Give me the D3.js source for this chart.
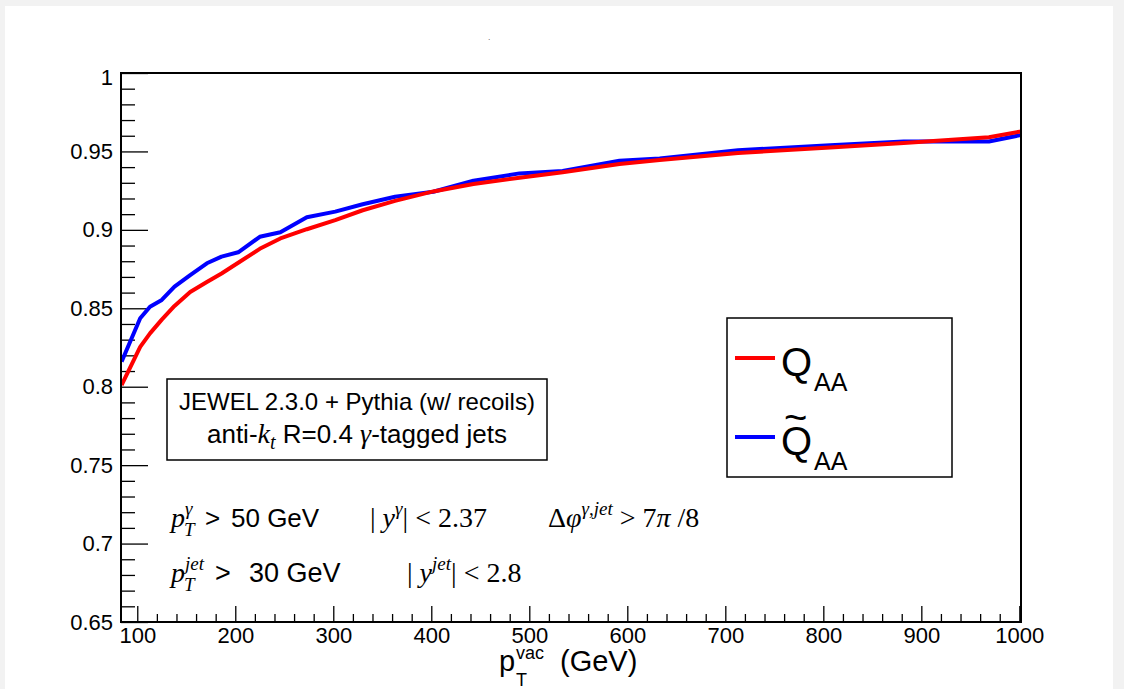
<!DOCTYPE html>
<html>
<head>
<meta charset="utf-8">
<script src="https://cdn.jsdelivr.net/npm/d3@7"></script>
<style>
  body { margin: 0; background: #f2f2f2; }
  svg { display: block; }
  text { font-family: "Liberation Sans", Arial, sans-serif; fill: #000; white-space: pre; }
  .serif { font-family: "Liberation Serif", "Times New Roman", serif; }
  .it { font-style: italic; }
</style>
</head>
<body>
<svg id="chart" width="1124" height="689"></svg>
<script>
// pT (GeV) where the curves have their nodes
const pT = [84, 103, 113, 125, 138, 154, 171, 186, 203, 225, 246, 273, 302, 330, 363, 402, 443, 490, 534, 592, 633, 713, 807, 882, 969, 1002];
// Q_AA (red)
const qAA = [0.801, 0.8254, 0.834, 0.8428, 0.8515, 0.8604, 0.8668, 0.8722, 0.879, 0.8879, 0.8945, 0.9004, 0.9062, 0.9125, 0.9185, 0.9245, 0.9292, 0.9332, 0.9367, 0.942, 0.9445, 0.949, 0.9525, 0.9553, 0.959, 0.9628];
// Q~_AA (blue)
const qAAtilde = [0.816, 0.8436, 0.851, 0.8553, 0.8638, 0.8712, 0.8787, 0.8829, 0.8857, 0.8956, 0.8985, 0.908, 0.9116, 0.9163, 0.9211, 0.9243, 0.9313, 0.936, 0.9375, 0.944, 0.9455, 0.9507, 0.954, 0.9563, 0.9563, 0.9605];

const xTicks = [100, 200, 300, 400, 500, 600, 700, 800, 900, 1000];
const yTicks = [0.65, 0.7, 0.75, 0.8, 0.85, 0.9, 0.95, 1];
const yTickLabels = ["0.65", "0.7", "0.75", "0.8", "0.85", "0.9", "0.95", "1"];

const svg = d3.select("#chart");

// white canvas on grey window
svg.append("rect").attr("x", 5).attr("y", 6).attr("width", 1108).attr("height", 683).attr("fill", "#fff");

// frame
let frame = { left: 121, right: 1021, top: 73, bottom: 622 };

let x = d3.scaleLinear().domain([83.4, 1001.7]).range([frame.left, frame.right]);
let y = d3.scaleLinear().domain([0.65, 1]).range([frame.bottom, frame.top]);

let xMinor = d3.range(100, 1001, 20).filter(d => d % 100 !== 0);
let yMinor = d3.range(66, 100).filter(d => d % 5 !== 0).map(d => d / 100);

// ticks (ROOT style: pointing inward)
svg.append("g")
    .attr("transform", "translate(0," + frame.bottom + ")")
    .call(d3.axisBottom(x).tickValues(xMinor).tickSizeInner(-8).tickSizeOuter(0).tickFormat(""))
    .call(g => g.select(".domain").remove());

let axX = svg.append("g")
    .attr("class", "x-axis")
    .attr("transform", "translate(0," + frame.bottom + ")")
    .call(d3.axisBottom(x).tickValues(xTicks).tickSizeInner(-16).tickSizeOuter(0).tickPadding(5).tickFormat(d3.format("d")))
    .call(g => g.select(".domain").remove());
axX.selectAll("text").attr("font-size", 22).attr("font-family", "Liberation Sans, Arial, sans-serif");

svg.append("g")
    .attr("transform", "translate(" + frame.left + ",0)")
    .call(d3.axisLeft(y).tickValues(yMinor).tickSizeInner(-14).tickSizeOuter(0).tickFormat(""))
    .call(g => g.select(".domain").remove());

let axY = svg.append("g")
    .attr("class", "y-axis")
    .attr("transform", "translate(" + frame.left + ",0)")
    .call(d3.axisLeft(y).tickValues(yTicks).tickSizeInner(-27).tickSizeOuter(0).tickPadding(8)
        .tickFormat((d, i) => yTickLabels[i]))
    .call(g => g.select(".domain").remove());
axY.selectAll("text").attr("font-size", 22).attr("font-family", "Liberation Sans, Arial, sans-serif");
// top label sits a bit lower, like in ROOT
axY.selectAll("text").filter(d => d === 1).attr("y", 4);

svg.selectAll(".tick line").attr("stroke", "#000").attr("stroke-width", 1.3);

// curves
svg.append("clipPath").attr("id", "clip")
    .append("rect").attr("x", frame.left).attr("y", frame.top)
    .attr("width", frame.right - frame.left).attr("height", frame.bottom - frame.top);

let line = d3.line().x(d => x(d[0])).y(d => y(d[1]));

svg.append("path")
    .datum(pT.map((p, i) => [p, qAAtilde[i]]))
    .attr("d", line)
    .attr("clip-path", "url(#clip)")
    .attr("fill", "none").attr("stroke", "#0000ff").attr("stroke-width", 4).attr("stroke-linejoin", "round");

svg.append("path")
    .datum(pT.map((p, i) => [p, qAA[i]]))
    .attr("d", line)
    .attr("clip-path", "url(#clip)")
    .attr("fill", "none").attr("stroke", "#ff0000").attr("stroke-width", 4).attr("stroke-linejoin", "round");

// frame on top
svg.append("rect")
    .attr("x", frame.left).attr("y", frame.top)
    .attr("width", frame.right - frame.left).attr("height", frame.bottom - frame.top)
    .attr("fill", "none").attr("stroke", "#000").attr("stroke-width", 2);

// tiny empty-title mark
svg.append("text").attr("x", 488).attr("y", 44).attr("font-size", 7).text("ˊ");

// x axis title
svg.append("text").attr("x", 499).attr("y", 671).attr("font-size", 29).text("p");
svg.append("text").attr("x", 516).attr("y", 659).attr("font-size", 18).text("vac");
svg.append("text").attr("x", 516).attr("y", 686).attr("font-size", 18).text("T");
svg.append("text").attr("x", 560).attr("y", 671).attr("font-size", 29).text("(GeV)");

// info box
svg.append("rect").attr("x", 167).attr("y", 379).attr("width", 380).attr("height", 81)
    .attr("fill", "#fff").attr("stroke", "#000").attr("stroke-width", 1.5);
svg.append("text").attr("x", 357).attr("y", 410).attr("font-size", 24).attr("text-anchor", "middle")
    .text("JEWEL 2.3.0 + Pythia (w/ recoils)");
let t2 = svg.append("text").attr("x", 357).attr("y", 443).attr("font-size", 26).attr("text-anchor", "middle");
t2.append("tspan").text("anti-");
t2.append("tspan").attr("class", "serif it").attr("font-size", 28).text("k");
t2.append("tspan").attr("class", "serif it").attr("font-size", 20).attr("dy", 6).text("t");
t2.append("tspan").attr("dy", -6).text(" R=0.4 ");
t2.append("tspan").attr("class", "serif it").attr("font-size", 28).text("γ");
t2.append("tspan").text("-tagged jets");

// cuts
function pLabel(x0, yb, sup) {
    svg.append("text").attr("class", "serif it").attr("x", x0).attr("y", yb).attr("font-size", 28).text("p");
    svg.append("text").attr("class", "serif it").attr("x", x0 + 13).attr("y", yb + 9).attr("font-size", 19).text("T");
    svg.append("text").attr("class", "serif it").attr("x", x0 + 14).attr("y", yb - 12).attr("font-size", 19).text(sup);
}
pLabel(171, 527, "γ");
svg.append("text").attr("x", 205).attr("y", 527).attr("font-size", 26).text(">");
svg.append("text").attr("x", 231).attr("y", 527).attr("font-size", 26).text("50 GeV");
let c2 = svg.append("text").attr("class", "serif").attr("x", 370).attr("y", 527).attr("font-size", 28);
c2.append("tspan").text("| ");
c2.append("tspan").attr("class", "it").text("y");
c2.append("tspan").attr("class", "it").attr("font-size", 19).attr("dy", -12).text("γ");
c2.append("tspan").attr("dy", 12).text("| < 2.37");
let c3 = svg.append("text").attr("class", "serif").attr("x", 548).attr("y", 527).attr("font-size", 28);
c3.append("tspan").text("Δ");
c3.append("tspan").attr("class", "it").text("φ");
c3.append("tspan").attr("class", "it").attr("font-size", 19).attr("dy", -12).text("γ,jet");
c3.append("tspan").attr("dy", 12).text(" > 7");
c3.append("tspan").attr("class", "it").text("π");
c3.append("tspan").text(" /8");

pLabel(171, 582, "jet");
svg.append("text").attr("x", 215).attr("y", 582).attr("font-size", 27).text(">");
svg.append("text").attr("x", 249).attr("y", 582).attr("font-size", 27).text("30 GeV");
let c5 = svg.append("text").attr("class", "serif").attr("x", 407).attr("y", 582).attr("font-size", 28);
c5.append("tspan").text("| ");
c5.append("tspan").attr("class", "it").text("y");
c5.append("tspan").attr("class", "it").attr("font-size", 19).attr("dy", -12).text("jet");
c5.append("tspan").attr("dy", 12).text("| < 2.8");

// legend
svg.append("rect").attr("x", 727).attr("y", 318).attr("width", 225).attr("height", 159)
    .attr("fill", "#fff").attr("stroke", "#000").attr("stroke-width", 1.5);
let legendItems = [
    { name: "Q", color: "#ff0000", y: 358, tilde: false },
    { name: "Q", color: "#0000ff", y: 437, tilde: true }
];
legendItems.forEach(d => {
    svg.append("line").attr("x1", 735).attr("x2", 775).attr("y1", d.y).attr("y2", d.y)
        .attr("stroke", d.color).attr("stroke-width", 4);
    svg.append("text").attr("x", 781).attr("y", d.y + 18).attr("font-size", 40).text(d.name);
    svg.append("text").attr("x", 814).attr("y", d.y + 33).attr("font-size", 25).text("AA");
    if (d.tilde) {
        svg.append("text").attr("x", 784).attr("y", d.y - 6).attr("font-size", 40).text("~");
    }
});
</script>
</body>
</html>
